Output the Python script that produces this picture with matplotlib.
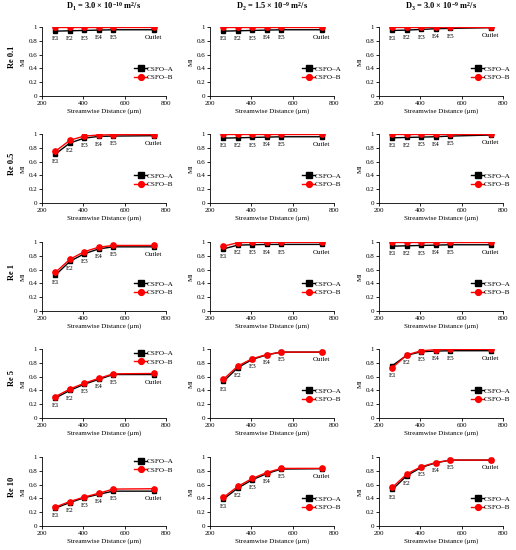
import matplotlib
matplotlib.use('Agg')
import matplotlib.pyplot as plt
from matplotlib.ticker import FuncFormatter

plt.rcParams['font.family'] = ['Liberation Serif', 'DejaVu Serif']
plt.rcParams['mathtext.fontset'] = 'custom'
plt.rcParams['mathtext.rm'] = 'Liberation Serif:bold'
plt.rcParams['mathtext.it'] = 'Liberation Serif:bold'
plt.rcParams['mathtext.bf'] = 'Liberation Serif:bold'

# ---------------------------------------------------------------
# data
# ---------------------------------------------------------------
distance = [265, 335, 405, 475, 545, 740]
point_labels = ['E1', 'E2', 'E3', 'E4', 'E5', 'Outlet']
re_labels = ['Re 0.1', 'Re 0.5', 'Re 1', 'Re 5', 'Re 10']
d_titles = ['D$_1$ = 3.0 \u00d7 10$^{-10}$ m$^2$/s',
            'D$_2$ = 1.5 \u00d7 10$^{-9}$ m$^2$/s',
            'D$_3$ = 3.0 \u00d7 10$^{-9}$ m$^2$/s']
series_names = ['CSFO\u2013A', 'CSFO\u2013B']

# each row: [D1, D2, D3]
csfo_a_re0_1 = [[0.94, 0.945, 0.95, 0.955, 0.96, 0.96],
                [0.94, 0.945, 0.95, 0.955, 0.96, 0.96],
                [0.95, 0.955, 0.965, 0.975, 0.98, 0.99]]
csfo_b_re0_1 = [[0.995, 0.995, 0.995, 0.995, 0.995, 0.995],
                [0.995, 0.995, 0.995, 0.995, 0.995, 0.995],
                [0.995, 0.995, 0.995, 0.995, 0.995, 0.995]]

csfo_a_re0_5 = [[0.71, 0.87, 0.94, 0.965, 0.97, 0.975],
                [0.94, 0.945, 0.95, 0.955, 0.96, 0.96],
                [0.945, 0.95, 0.955, 0.96, 0.97, 0.985]]
csfo_b_re0_5 = [[0.75, 0.91, 0.97, 0.985, 0.99, 0.99],
                [0.995, 0.995, 0.995, 0.995, 0.995, 0.995],
                [0.995, 0.995, 0.995, 0.995, 0.995, 0.995]]

csfo_a_re1 = [[0.52, 0.72, 0.83, 0.9, 0.93, 0.93],
              [0.9, 0.955, 0.96, 0.965, 0.965, 0.965],
              [0.94, 0.945, 0.95, 0.955, 0.96, 0.96]]
csfo_b_re1 = [[0.56, 0.75, 0.86, 0.925, 0.95, 0.95],
              [0.94, 0.99, 0.995, 0.995, 0.995, 0.995],
              [0.995, 0.995, 0.995, 0.995, 0.995, 0.995]]

csfo_a_re5 = [[0.29, 0.4, 0.49, 0.56, 0.63, 0.63],
              [0.53, 0.73, 0.85, 0.915, 0.955, 0.955],
              [0.76, 0.91, 0.96, 0.97, 0.975, 0.975]]
csfo_b_re5 = [[0.31, 0.42, 0.505, 0.575, 0.64, 0.645],
              [0.56, 0.755, 0.86, 0.92, 0.955, 0.955],
              [0.73, 0.915, 0.975, 0.99, 0.995, 0.995]]

csfo_a_re10 = [[0.26, 0.34, 0.41, 0.46, 0.505, 0.505],
               [0.39, 0.55, 0.67, 0.76, 0.825, 0.83],
               [0.53, 0.73, 0.85, 0.915, 0.955, 0.955]]
csfo_b_re10 = [[0.275, 0.355, 0.42, 0.475, 0.535, 0.54],
               [0.415, 0.575, 0.69, 0.775, 0.835, 0.835],
               [0.56, 0.755, 0.86, 0.92, 0.955, 0.955]]

csfo_a = [csfo_a_re0_1, csfo_a_re0_5, csfo_a_re1, csfo_a_re5, csfo_a_re10]
csfo_b = [csfo_b_re0_1, csfo_b_re0_5, csfo_b_re1, csfo_b_re5, csfo_b_re10]

# ---------------------------------------------------------------
# layout (pixel positions of the plot areas)
# ---------------------------------------------------------------
W, H = 516, 550
col_left = [42, 210, 379]
row_top = [27, 134, 242, 349, 457]
ax_w, ax_h = 124, 69

fig = plt.figure(figsize=(W / 100, H / 100), dpi=100)

for r in range(5):
    for c in range(3):
        ax = fig.add_axes([col_left[c] / W, 1 - (row_top[r] + ax_h) / H, ax_w / W, ax_h / H])
        ya = csfo_a[r][c]
        yb = csfo_b[r][c]
        ax.plot(distance, ya, color='black', marker='s', markersize=3.4, lw=1.0, label=series_names[0])
        ax.plot(distance, yb, color='#ff0000', marker='o', markersize=3.8, lw=1.0, label=series_names[1])

        for x, a, b, lab in zip(distance, ya, yb, point_labels):
            ax.annotate(lab, (x, min(a, b)), xytext=(0, -5.5), textcoords='offset points',
                        ha='center', va='center', fontsize=5)

        ax.set_xlim(200, 800)
        ax.set_ylim(0, 1)
        ax.set_xticks([200, 400, 600, 800])
        ax.set_yticks([0, 0.2, 0.4, 0.6, 0.8, 1])
        ax.yaxis.set_major_formatter(FuncFormatter(lambda v, p: f'{v:g}'))
        ax.tick_params(labelsize=5, length=2, width=0.6, pad=1.5, direction='out')
        for s in ['top', 'right']:
            ax.spines[s].set_visible(False)
        for s in ['left', 'bottom']:
            ax.spines[s].set_linewidth(0.6)
        ax.set_xlabel('Streamwise Distance (\u03bcm)', fontsize=5, labelpad=2)
        ax.set_ylabel('MI', fontsize=5, labelpad=2)

        # legend sits low, except in the left column for the two fast rows
        if r >= 3 and c == 0:
            anchor = (0.745, 0.875)
        else:
            anchor = (0.745, 0.335)
        ax.legend(loc='center left', bbox_to_anchor=anchor, frameon=False, fontsize=5.2,
                  handlelength=1.7, handletextpad=0.0, labelspacing=0.35, borderpad=0,
                  borderaxespad=0, markerscale=1.1)

        if r == 0:
            fig.text((col_left[c] + ax_w / 2) / W, 1 - 7 / H, d_titles[c],
                     ha='center', va='center', fontsize=6, fontweight='bold')
        if c == 0:
            fig.text(12 / W, 1 - (row_top[r] + ax_h / 2 - 5) / H, re_labels[r],
                     ha='center', va='center', rotation=90, fontsize=6, fontweight='bold')

plt.savefig('out.png', dpi=100)
plt.close()
